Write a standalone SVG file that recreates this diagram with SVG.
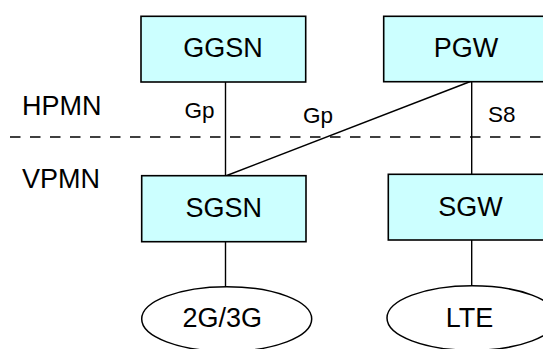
<svg xmlns="http://www.w3.org/2000/svg" width="543" height="349" viewBox="0 0 543 349">
<style>
.box{fill:#ccffff;stroke:#000;stroke-width:1.6}
.ell{fill:#fff;stroke:#000;stroke-width:1.5}
.t{font-family:"Liberation Sans",Arial,sans-serif;font-size:27px;fill:#000;text-anchor:middle}
.lbl{font-family:"Liberation Sans",Arial,sans-serif;font-size:22.5px;fill:#000}
.side{font-family:"Liberation Sans",Arial,sans-serif;font-size:27px;fill:#000}
.ln{stroke:#000;stroke-width:1.4;fill:none}
</style>
<rect width="543" height="349" fill="#fff"/>
<g id="regions">
<text class="side" x="22" y="115">HPMN</text>
<text class="side" x="22" y="188">VPMN</text>
<line x1="10" y1="137" x2="543" y2="137" stroke="#000" stroke-width="1.4" stroke-dasharray="10.5,9.5"/>
</g>
<g id="connectors">
<line class="ln" x1="225.5" y1="82" x2="225.5" y2="176"/>
<line class="ln" x1="471.7" y1="82" x2="471.7" y2="174.5"/>
<line class="ln" x1="471.7" y1="81" x2="225.5" y2="176"/>
<line class="ln" x1="225.5" y1="242" x2="225.5" y2="287"/>
<line class="ln" x1="471.7" y1="240" x2="471.7" y2="286"/>
<text class="lbl" x="184.5" y="118.3">Gp</text>
<text class="lbl" x="303" y="123.3">Gp</text>
<text class="lbl" x="488" y="121.7">S8</text>
</g>
<g id="GGSN"><rect class="box" x="141" y="16.3" width="164.7" height="65.7"/><text class="t" x="223" y="57.3">GGSN</text></g>
<g id="PGW"><rect class="box" x="383.7" y="16.3" width="165" height="65.4"/><text class="t" x="466" y="57.3">PGW</text></g>
<g id="SGSN"><rect class="box" x="141.7" y="175.7" width="164.3" height="66"/><text class="t" x="223.7" y="216.7">SGSN</text></g>
<g id="SGW"><rect class="box" x="388.3" y="174.3" width="165" height="65.7"/><text class="t" x="470.5" y="215.7">SGW</text></g>
<g id="n2G3G"><ellipse class="ell" cx="226.7" cy="319" rx="85" ry="32.3"/><text class="t" x="222.2" y="327.3">2G/3G</text></g>
<g id="LTE"><ellipse class="ell" cx="472" cy="318" rx="85" ry="32.3"/><text class="t" x="469.5" y="327.3">LTE</text></g>
</svg>
